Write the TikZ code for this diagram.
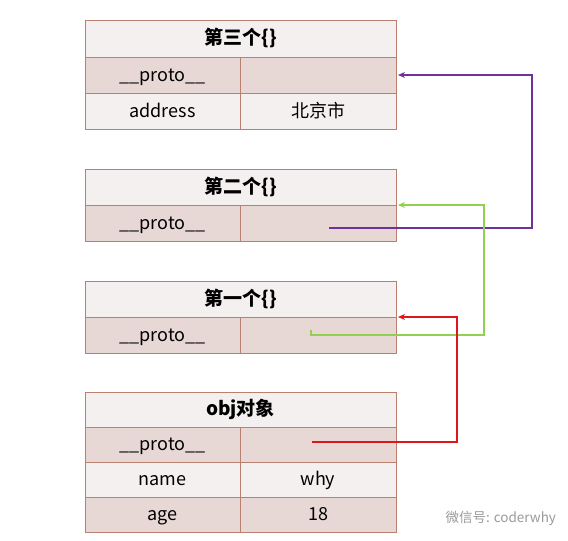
\documentclass[tikz,border=0pt]{standalone}
\usepackage{fontspec}
\setmainfont{Noto Sans CJK SC}
\usetikzlibrary{arrows.meta,calc}
\definecolor{bordc}{HTML}{B9806F}
\definecolor{lightc}{HTML}{F4F0EF}
\definecolor{darkc}{HTML}{E7D8D5}
\definecolor{purplec}{HTML}{7030A0}
\definecolor{greenc}{HTML}{92D050}
\definecolor{redc}{HTML}{E0141B}
\definecolor{wmc}{HTML}{9A9A9A}
\tikzset{
  cell/.style={draw=bordc, line width=0.8pt, inner sep=0pt, outer sep=0pt, text height=14pt, text depth=2pt, font=\fontsize{18}{20}\selectfont},
  hdr/.style={cell, fill=lightc, minimum width=311pt, minimum height=36pt, font=\fontsize{19}{21}\selectfont\bfseries},
  lc/.style={cell, minimum width=155pt, minimum height=36pt},
  rc/.style={cell, minimum width=156pt, minimum height=36pt},
  lt/.style={fill=lightc},
  dk/.style={fill=darkc},
  link/.style={line width=1.4pt, -{Stealth[length=7pt,width=6pt]}, shorten >=2pt},
}
\begin{document}
\begin{tikzpicture}[x=1pt,y=-1pt]
\useasboundingbox[fill=white] (0,0) rectangle (568,541);
% table 3
\node[hdr, minimum height=37pt] (t3h) at (240.5,38.5) {第三个\{\}};
\node[lc,dk] (t3pk) at (162.5,75) {\_\_proto\_\_};
\node[rc,dk] (t3pv) at (318,75) {};
\node[lc,lt] (t3ak) at (162.5,111) {address};
\node[rc,lt] (t3av) at (318,111) {北京市};
% table 2
\node[hdr] (t2h) at (240.5,187) {第二个\{\}};
\node[lc,dk] (t2pk) at (162.5,223) {\_\_proto\_\_};
\node[rc,dk] (t2pv) at (318,223) {};
% table 1
\node[hdr] (t1h) at (240.5,299) {第一个\{\}};
\node[lc,dk] (t1pk) at (162.5,335) {\_\_proto\_\_};
\node[rc,dk] (t1pv) at (318,335) {};
% obj
\node[hdr, minimum height=35pt] (oh) at (240.5,409.5) {obj对象};
\node[lc,dk, minimum height=35pt] (opk) at (162.5,444.5) {\_\_proto\_\_};
\node[rc,dk, minimum height=35pt] (opv) at (318,444.5) {};
\node[lc,lt, minimum height=35pt] (onk) at (162.5,479.5) {name};
\node[rc,lt, minimum height=35pt] (onv) at (318,479.5) {why};
\node[lc,dk, minimum height=35pt] (oak) at (162.5,514.5) {age};
\node[rc,dk, minimum height=35pt] (oav) at (318,514.5) {18};
% connectors
\coordinate (pS) at (329,228);
\coordinate (pC) at (532,75);
\draw[link, purplec] (pS) -| (pC) -- (t3pv.east);
\coordinate (gS) at (311,330);
\coordinate (gT) at (311,335);
\coordinate (gC) at (484,205);
\draw[link, greenc] (gS) -- (gT) -| (gC) -- (t2pv.north east);
\coordinate (rS) at (312,442);
\coordinate (rC) at (457,317);
\draw[link, redc] (rS) -| (rC) -- (t1pv.north east);
% watermark
\node[text=wmc, font=\fontsize{13.5}{15}\selectfont, anchor=west] (wm) at (442,518) {微信号: coderwhy};
\end{tikzpicture}
\end{document}
